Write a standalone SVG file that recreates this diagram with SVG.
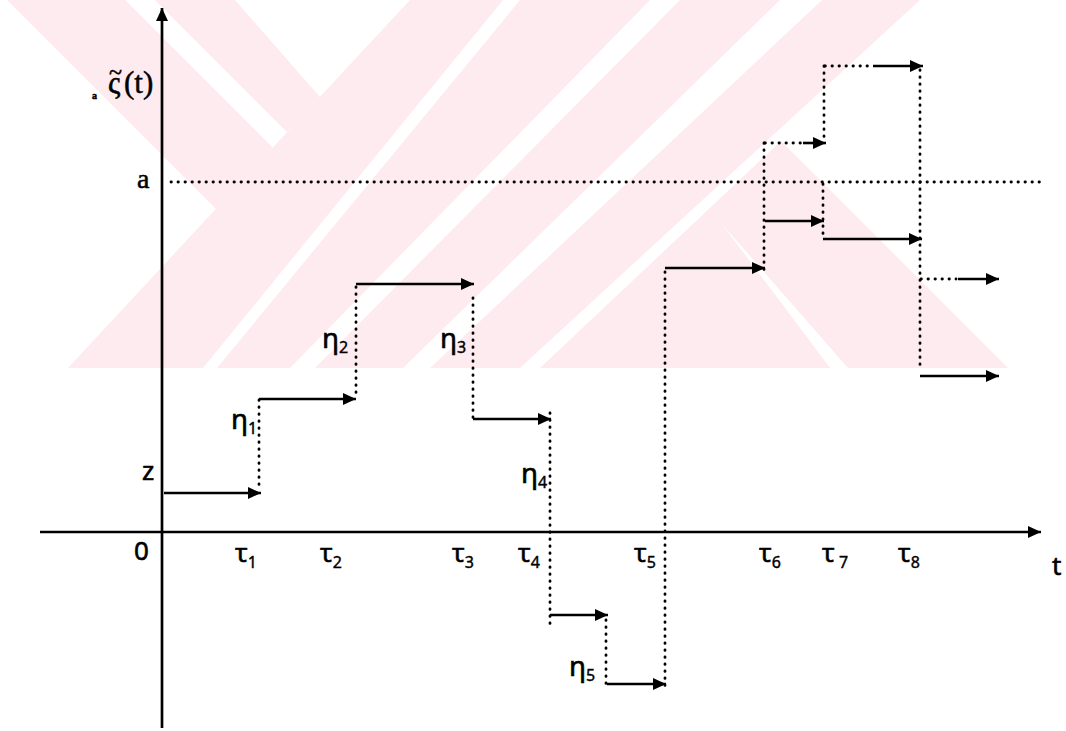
<svg xmlns="http://www.w3.org/2000/svg" width="1066" height="731" viewBox="0 0 1066 731">
  <defs>
    <style>
      .axis { stroke: #000; stroke-width: 2.7; fill: none; }
      .jump { stroke: #000; stroke-width: 2.8; stroke-dasharray: 0.4 6.6; stroke-linecap: round; fill: none; }
      .hold { stroke: #000; stroke-width: 2.6; fill: none; }
      .lbl { font-family: "Noto Sans", "Open Sans", sans-serif; font-size: 26px; fill: #000; stroke: #000; stroke-width: 0.6; }
      .eta { font-size: 28px; }
      .sub { font-size: 16px; stroke-width: 0.4; }
      .ser { font-family: "Liberation Serif", "DejaVu Serif", serif; fill: #000; stroke: #000; stroke-width: 0.5; }
      .wm { fill: #fdebef; }
    </style>
    <marker id="head" markerUnits="userSpaceOnUse" markerWidth="14" markerHeight="12" refX="13" refY="6" orient="auto">
      <path d="M0,0 L13,6 L0,12 z" fill="#000"/>
    </marker>
    <clipPath id="band">
      <rect x="0" y="0" width="1066" height="368"/>
    </clipPath>
  </defs>

  <rect width="1066" height="731" fill="#fff"/>

  <!-- background emblem: chevron bands -->
  <g id="emblem" clip-path="url(#band)">
    <polygon class="wm" points="7,0 125,0 273,148 216,209"/>
    <polygon class="wm" points="155,0 235,0 320,97 287,132"/>
    <polygon class="wm" points="410,0 503,0 203,368 68,368"/>
    <polygon class="wm" points="520,0 650,0 290,368 217,368"/>
    <polygon class="wm" points="680,0 780,0 403,368 315,368"/>
    <polygon class="wm" points="822,0 920,0 520,368 430,368"/>
    <polygon class="wm" points="540,368 781,141 1008,368 848,368 722,224 830,368"/>
  </g>

  <!-- axes and the level a -->
  <g id="axes">
    <line class="axis" x1="162" y1="728" x2="162" y2="8" marker-end="url(#head)"/>
    <line class="axis" x1="40" y1="532" x2="1041" y2="532" marker-end="url(#head)"/>
    <line class="jump" x1="171" y1="182" x2="1040" y2="182"/>
  </g>

  <!-- sample path: holding segments (solid) and jumps (dotted) -->
  <g id="connectors">
    <line class="hold" x1="164" y1="493" x2="261" y2="493" marker-end="url(#head)"/>
    <line class="jump" x1="259" y1="400" x2="259" y2="490"/>
    <line class="hold" x1="259" y1="399" x2="356" y2="399" marker-end="url(#head)"/>
    <line class="jump" x1="356" y1="287" x2="356" y2="396"/>
    <line class="hold" x1="356" y1="284" x2="474" y2="284" marker-end="url(#head)"/>
    <line class="jump" x1="473" y1="298" x2="473" y2="419"/>
    <line class="hold" x1="473" y1="419" x2="551" y2="419" marker-end="url(#head)"/>
    <line class="jump" x1="550" y1="413" x2="550" y2="625"/>
    <line class="hold" x1="550" y1="615" x2="608" y2="615" marker-end="url(#head)"/>
    <line class="jump" x1="606" y1="620" x2="606" y2="684"/>
    <line class="hold" x1="607" y1="684" x2="666" y2="684" marker-end="url(#head)"/>
    <line class="jump" x1="665" y1="272" x2="665" y2="688"/>
    <line class="hold" x1="665" y1="268" x2="765" y2="268" marker-end="url(#head)"/>
    <line class="jump" x1="764" y1="143" x2="764" y2="275"/>
    <line class="hold" x1="765" y1="221" x2="824" y2="221" marker-end="url(#head)"/>
    <line class="jump" x1="765" y1="143" x2="801" y2="143"/>
    <line class="hold" x1="803" y1="143" x2="826" y2="143" marker-end="url(#head)"/>
    <line class="jump" x1="824" y1="66" x2="824" y2="141"/>
    <line class="jump" x1="823" y1="184" x2="823" y2="238"/>
    <line class="hold" x1="823" y1="239" x2="922" y2="239" marker-end="url(#head)"/>
    <line class="jump" x1="825" y1="66" x2="872" y2="66"/>
    <line class="hold" x1="873" y1="66" x2="923" y2="66" marker-end="url(#head)"/>
    <line class="jump" x1="920" y1="70" x2="920" y2="368"/>
    <line class="jump" x1="921" y1="279" x2="956" y2="279"/>
    <line class="hold" x1="958" y1="279" x2="999" y2="279" marker-end="url(#head)"/>
    <line class="hold" x1="920" y1="376" x2="999" y2="376" marker-end="url(#head)"/>
  </g>

  <!-- axis labels -->
  <g id="labels">
    <text class="ser" x="92" y="99" font-size="10" font-weight="bold">a</text>
    <text class="ser" font-size="31"><tspan x="108" y="93">ς</tspan><tspan x="109" y="80" font-size="24">~</tspan><tspan x="124" y="93">(t)</tspan></text>
    <text class="ser" x="137" y="188" font-size="28">a</text>
    <text class="lbl" x="142" y="480">z</text>
    <text class="lbl" x="134" y="560">0</text>
    <text class="lbl" x="1052" y="575">t</text>
  </g>

  <g id="jump-times">
    <text class="lbl" x="235" y="562">τ<tspan class="sub" dy="6">1</tspan></text>
    <text class="lbl" x="320" y="562">τ<tspan class="sub" dy="6">2</tspan></text>
    <text class="lbl" x="452" y="562">τ<tspan class="sub" dy="6">3</tspan></text>
    <text class="lbl" x="518" y="562">τ<tspan class="sub" dy="6">4</tspan></text>
    <text class="lbl" x="634" y="562">τ<tspan class="sub" dy="6">5</tspan></text>
    <text class="lbl" x="759" y="562">τ<tspan class="sub" dy="6">6</tspan></text>
    <text class="lbl" x="822" y="562">τ<tspan class="sub" dy="6"> 7</tspan></text>
    <text class="lbl" x="898" y="562">τ<tspan class="sub" dy="6">8</tspan></text>
  </g>

  <g id="jump-sizes">
    <text class="lbl eta" x="231" y="429">η<tspan class="sub" dy="5">1</tspan></text>
    <text class="lbl eta" x="322" y="348">η<tspan class="sub" dy="5">2</tspan></text>
    <text class="lbl eta" x="440" y="348">η<tspan class="sub" dy="5">3</tspan></text>
    <text class="lbl eta" x="521" y="483">η<tspan class="sub" dy="5">4</tspan></text>
    <text class="lbl eta" x="569" y="676">η<tspan class="sub" dy="5">5</tspan></text>
  </g>
</svg>
